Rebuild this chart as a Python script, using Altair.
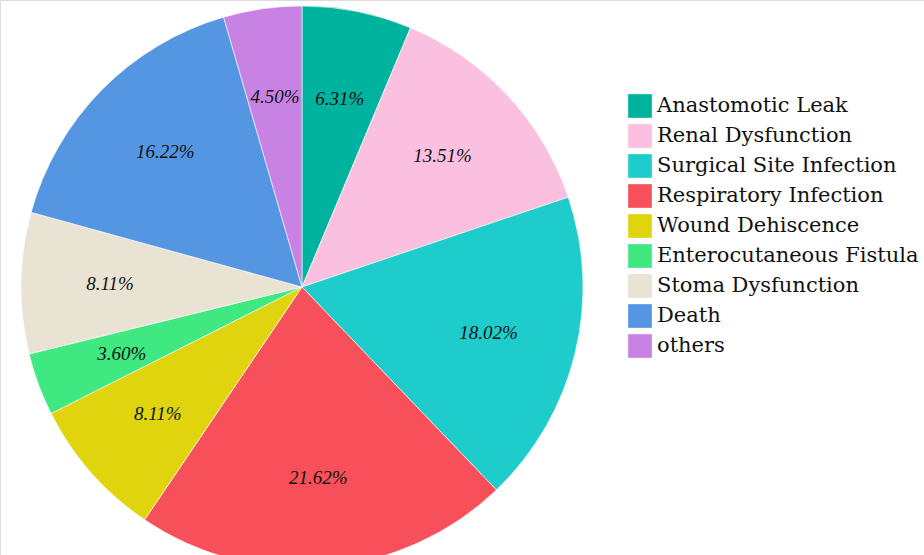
import altair as alt
import pandas as pd

categories = [
    "Anastomotic Leak",
    "Renal Dysfunction",
    "Surgical Site Infection",
    "Respiratory Infection",
    "Wound Dehiscence",
    "Enterocutaneous Fistula",
    "Stoma Dysfunction",
    "Death",
    "others",
]
percents = [6.31, 13.51, 18.02, 21.62, 8.11, 3.60, 8.11, 16.22, 4.50]
labels = ["6.31%", "13.51%", "18.02%", "21.62%", "8.11%", "3.60%", "8.11%", "16.22%", "4.50%"]
colors = ["#00B39F", "#FBC0DF", "#1FCCCC", "#F7505A", "#E0D40E",
          "#40E882", "#E9E3D3", "#5596E3", "#C882E3"]

df = pd.DataFrame({
    "category": categories,
    "pct": percents,
    "label": labels,
    "idx": list(range(len(categories))),
})

CX, CY = 302, 287

base = alt.Chart(df).encode(
    theta=alt.Theta("pct:Q", stack=True),
    order=alt.Order("idx:Q", sort="ascending"),
)

arcs = base.mark_arc(outerRadius=281, stroke="white", strokeWidth=0.6).encode(
    x=alt.value(CX),
    y=alt.value(CY),
    color=alt.Color(
        "category:N",
        scale=alt.Scale(domain=categories, range=colors),
        sort=categories,
        legend=alt.Legend(
            title=None,
            orient="none",
            legendX=628,
            legendY=94,
            symbolType="square",
            symbolSize=560,
            symbolStrokeWidth=0,
            symbolOpacity=1,
            labelFont="DejaVu Serif",
            labelFontSize=21,
            labelColor="#111111",
            labelLimit=400,
            labelOffset=5,
            rowPadding=6,
            symbolOffset=0,
            padding=0,
        ),
    ),
)

text = base.mark_text(
    radius=192,
    font="Liberation Serif",
    fontStyle="italic",
    fontSize=19,
    color="#111111",
).encode(
    x=alt.value(CX),
    y=alt.value(CY),
    text="label:N",
)

chart = (
    alt.layer(arcs, text)
    .properties(width=924, height=555, autosize=alt.AutoSizeParams(type="none"), padding=0)
    .configure_view(stroke=None)
    .configure(background="white")
)

chart.save("out.html", embed_options={"renderer": "svg", "actions": False})
